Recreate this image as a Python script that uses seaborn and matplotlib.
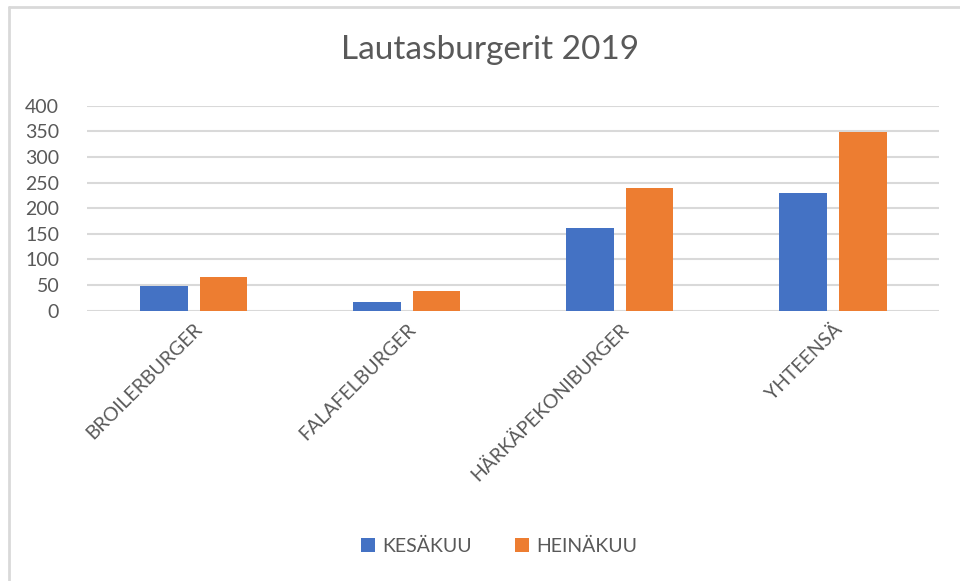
import pandas as pd
import matplotlib.pyplot as plt
import seaborn as sns
from matplotlib.lines import Line2D

# Data
burgers = ['BROILERBURGER', 'FALAFELBURGER', 'HÄRKÄPEKONIBURGER', 'YHTEENSÄ']
kesakuu = [49, 17, 162, 229]
heinakuu = [66, 39, 239, 349]
months = ['KESÄKUU', 'HEINÄKUU']

df = pd.DataFrame({
    'burger': burgers * 2,
    'month': [months[0]] * 4 + [months[1]] * 4,
    'count': kesakuu + heinakuu,
})

sns.set_theme(style='white')
plt.rcParams['font.family'] = ['Lato', 'DejaVu Sans']
grey = '#595959'

fig = plt.figure(figsize=(9.6, 5.81), dpi=100)
ax = fig.add_axes([0.0906, 0.4652, 0.888, 0.3528])

sns.barplot(data=df, x='burger', y='count', hue='month', ax=ax,
            palette=['#4472C4', '#ED7D31'], width=0.56, gap=0.2,
            saturation=1, errorbar=None, edgecolor='none')

ax.set_ylim(0, 400)
ax.set_xlim(-0.5, 3.5)
ax.set_yticks(range(0, 401, 50))
ax.yaxis.grid(True, color='#d9d9d9', linewidth=1.5)
ax.set_axisbelow(True)
for s in ax.spines.values():
    s.set_visible(False)
ax.tick_params(axis='y', length=0, labelsize=14, labelcolor=grey, pad=20)
ax.tick_params(axis='x', length=0, labelsize=14, labelcolor=grey, pad=7)
plt.setp(ax.get_xticklabels(), rotation=45, ha='right', rotation_mode='anchor')
ax.set_xlabel('')
ax.set_ylabel('')

fig.suptitle('Lautasburgerit 2019', x=0.51, y=0.94, fontsize=24, color=grey)

ax.legend(loc='center', bbox_to_anchor=(0.52, 0.06), bbox_transform=fig.transFigure,
          ncol=2, frameon=False, fontsize=14, labelcolor=grey,
          handlelength=0.7, handleheight=0.7, handletextpad=0.4, columnspacing=2.2)

# light frame around the chart area
fig.add_artist(Line2D([0.009, 1.0], [0.988, 0.988], color='#d9d9d9', linewidth=2))
fig.add_artist(Line2D([0.009, 0.009], [0.0, 0.988], color='#d9d9d9', linewidth=2))

fig.savefig('out.png', dpi=100, facecolor='white')
